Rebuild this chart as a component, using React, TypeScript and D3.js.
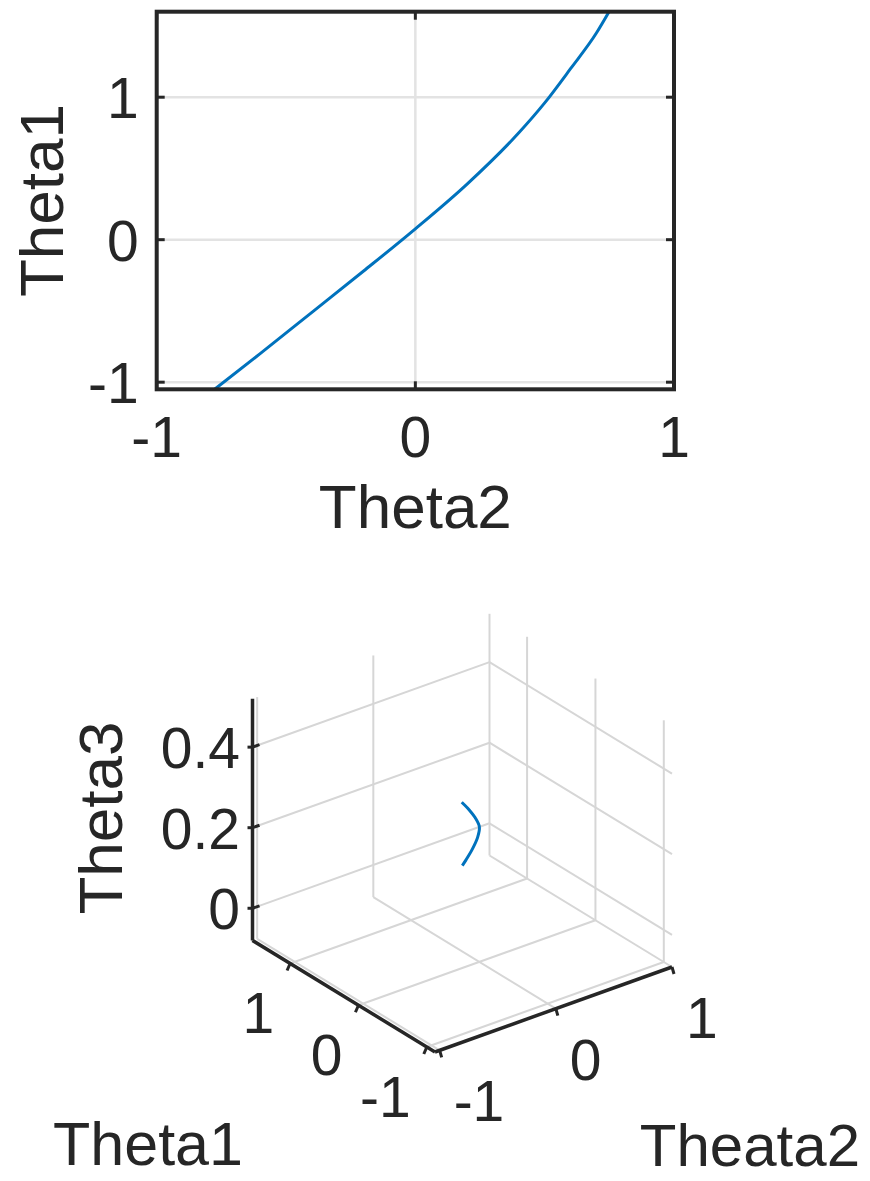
import * as d3 from 'd3';

// top plot: Theta1 vs Theta2
const theta2Top = [-0.776, -0.6, -0.4, -0.2, 0, 0.2, 0.4, 0.5, 0.6, 0.7, 0.749];
const theta1Top = [-1.05, -0.8, -0.51, -0.22, 0.076, 0.39, 0.75, 0.96, 1.2, 1.45, 1.6];
const topTicks = [-1, 0, 1];

// 3d plot: small arc in (Theta1, Theata2, Theta3)
const arcTheta1 = [0, 0, 0, 0, 0, 0, 0, 0];
const arcTheta2 = [-0.151, -0.088, -0.036, 0.001, -0.015, -0.062, -0.114, -0.146];
const arcTheta3 = [0.332, 0.307, 0.282, 0.255, 0.23, 0.205, 0.185, 0.174];
const t1Ticks = [-1, 0, 1];
const t2Ticks = [-1, 0, 1];
const zTicks = [0, 0.2, 0.4];
const zTickLabels = ['0', '0.2', '0.4'];

const BLUE = '#0072BD';
const AXIS = '#262626';
const GRID = '#e3e3e3';
const GRID3D = '#d6d6d6';
const FONT = '"Liberation Sans", Arial, Helvetica, sans-serif';
const TICK_FS = 57;
const LABEL_FS = 62;

const TopPlot = () => {
  const left = 156.7, right = 674, top = 11.7, bottom = 389.3;
  const x = d3.scaleLinear().domain([-1, 1]).range([left, right]);
  const y = d3.scaleLinear().domain([-1.05, 1.6]).range([bottom, top]);
  const pts = theta2Top.map((d, i) => [d, theta1Top[i]] as [number, number]);
  const line = d3
    .line<[number, number]>()
    .x((d) => x(d[0]))
    .y((d) => y(d[1]))
    .curve(d3.curveMonotoneX);
  const tl = 8;
  return (
    <g>
      {topTicks.map((t) => (
        <line key={'gx' + t} x1={x(t)} x2={x(t)} y1={top} y2={bottom} stroke={GRID} strokeWidth={2.5} />
      ))}
      {topTicks.map((t) => (
        <line key={'gy' + t} x1={left} x2={right} y1={y(t)} y2={y(t)} stroke={GRID} strokeWidth={2.5} />
      ))}
      <path d={line(pts) ?? ''} fill="none" stroke={BLUE} strokeWidth={3} />
      {topTicks.map((t) => (
        <g key={'tk' + t} stroke={AXIS} strokeWidth={3}>
          <line x1={x(t)} x2={x(t)} y1={bottom} y2={bottom - tl} />
          <line x1={x(t)} x2={x(t)} y1={top} y2={top + tl} />
          <line x1={left} x2={left + tl} y1={y(t)} y2={y(t)} />
          <line x1={right} x2={right - tl} y1={y(t)} y2={y(t)} />
        </g>
      ))}
      <rect x={left} y={top} width={right - left} height={bottom - top} fill="none" stroke={AXIS} strokeWidth={4} />
      {topTicks.map((t) => (
        <text key={'lx' + t} x={x(t)} y={bottom + 68} textAnchor="middle" fontSize={TICK_FS} fill={AXIS}>
          {t}
        </text>
      ))}
      {topTicks.map((t) => (
        <text key={'ly' + t} x={left - 18} y={y(t) + 21} textAnchor="end" fontSize={TICK_FS} fill={AXIS}>
          {t}
        </text>
      ))}
      <text x={(left + right) / 2} y={528} textAnchor="middle" fontSize={LABEL_FS} fill={AXIS}>
        Theta2
      </text>
      <text
        transform={`translate(63, ${(top + bottom) / 2}) rotate(-90)`}
        textAnchor="middle"
        fontSize={LABEL_FS}
        fill={AXIS}
      >
        Theta1
      </text>
    </g>
  );
};

const Plot3D = () => {
  // screen position of (Theta1 min, Theata2 min, Theta3 min) and the axis directions
  const B: [number, number] = [435, 1052];
  const v1: [number, number] = [-182.5, -111.5];
  const v2: [number, number] = [237, -85];
  const f1 = d3.scaleLinear().domain([-1.12, 1.55]).range([0, 1]);
  const f2 = d3.scaleLinear().domain([-1.04, 1.0]).range([0, 1]);
  const fz = d3.scaleLinear().domain([-0.08, 0.52]).range([0, -241.7]);
  const [t1min, t1max] = f1.domain();
  const [t2min, t2max] = f2.domain();
  const [zmin, zmax] = fz.domain();
  const P = (a: number, b: number, c: number): [number, number] => [
    B[0] + f1(a) * v1[0] + f2(b) * v2[0],
    B[1] + f1(a) * v1[1] + f2(b) * v2[1] + fz(c),
  ];
  const seg = (p: [number, number], q: [number, number], key: string, stroke: string, w: number) => (
    <line key={key} x1={p[0]} y1={p[1]} x2={q[0]} y2={q[1]} stroke={stroke} strokeWidth={w} />
  );
  const grid: JSX.Element[] = [];
  // floor
  t1Ticks.forEach((t) => grid.push(seg(P(t, t2min, zmin), P(t, t2max, zmin), 'f1' + t, GRID3D, 2)));
  t2Ticks.forEach((t) => grid.push(seg(P(t1min, t, zmin), P(t1max, t, zmin), 'f2' + t, GRID3D, 2)));
  // left wall (Theta1 = max)
  zTicks.forEach((t) => grid.push(seg(P(t1max, t2min, t), P(t1max, t2max, t), 'lz' + t, GRID3D, 2)));
  t2Ticks.forEach((t) => grid.push(seg(P(t1max, t, zmin), P(t1max, t, zmax), 'lv' + t, GRID3D, 2)));
  // right wall (Theata2 = max)
  zTicks.forEach((t) => grid.push(seg(P(t1min, t2max, t), P(t1max, t2max, t), 'rz' + t, GRID3D, 2)));
  t1Ticks.forEach((t) => grid.push(seg(P(t, t2max, zmin), P(t, t2max, zmax), 'rv' + t, GRID3D, 2)));

  const arc = d3
    .line<number>()
    .x((i) => P(arcTheta1[i], arcTheta2[i], arcTheta3[i])[0])
    .y((i) => P(arcTheta1[i], arcTheta2[i], arcTheta3[i])[1])
    .curve(d3.curveCatmullRom);

  const L = P(t1max, t2min, zmin);
  const Bp = P(t1min, t2min, zmin);
  const R = P(t1min, t2max, zmin);
  const Ltop = P(t1max, t2min, zmax);
  const tickLen = 7;

  return (
    <g>
      {grid}
      <path d={arc(d3.range(arcTheta1.length)) ?? ''} fill="none" stroke={BLUE} strokeWidth={3} />
      {seg(L, Ltop, 'zax', AXIS, 3.5)}
      {seg(L, Bp, 't1ax', AXIS, 3.5)}
      {seg(Bp, R, 't2ax', AXIS, 3.5)}
      {zTicks.map((t) => {
        const p = P(t1max, t2min, t);
        return (
          <g key={'zt' + t}>
            <line x1={p[0]} x2={p[0] + tickLen} y1={p[1]} y2={p[1] - tickLen * 0.35} stroke={AXIS} strokeWidth={3} />
            <line x1={p[0]} x2={p[0] - 5} y1={p[1]} y2={p[1]} stroke={AXIS} strokeWidth={3} />
          </g>
        );
      })}
      {t1Ticks.map((t) => {
        const p = P(t, t2min, zmin);
        return <line key={'t1t' + t} x1={p[0]} x2={p[0] - 3} y1={p[1]} y2={p[1] + 7} stroke={AXIS} strokeWidth={3} />;
      })}
      {t2Ticks.map((t) => {
        const p = P(t1min, t, zmin);
        return <line key={'t2t' + t} x1={p[0]} x2={p[0] + 2} y1={p[1]} y2={p[1] + 7} stroke={AXIS} strokeWidth={3} />;
      })}
      {zTicks.map((t, i) => {
        const p = P(t1max, t2min, t);
        return (
          <text key={'zl' + t} x={240} y={p[1] + 21} textAnchor="end" fontSize={TICK_FS} fill={AXIS}>
            {zTickLabels[i]}
          </text>
        );
      })}
      {t1Ticks.map((t) => {
        const p = P(t, t2min, zmin);
        return (
          <text key={'t1l' + t} x={p[0] - 16} y={p[1] + 70} textAnchor="end" fontSize={TICK_FS} fill={AXIS}>
            {t}
          </text>
        );
      })}
      {t2Ticks.map((t) => {
        const p = P(t1min, t, zmin);
        return (
          <text key={'t2l' + t} x={p[0] + 14} y={p[1] + 71} textAnchor="start" fontSize={TICK_FS} fill={AXIS}>
            {t}
          </text>
        );
      })}
      <text x={148} y={1165} textAnchor="middle" fontSize={LABEL_FS - 1} fill={AXIS}>
        Theta1
      </text>
      <text x={860} y={1166} textAnchor="end" fontSize={LABEL_FS - 2} fill={AXIS}>
        Theata2
      </text>
      <text transform="translate(122, 818) rotate(-90)" textAnchor="middle" fontSize={LABEL_FS} fill={AXIS}>
        Theta3
      </text>
    </g>
  );
};

export default function App() {
  return (
    <svg
      width={870}
      height={1181}
      style={{ position: 'absolute', left: 0, top: 0, background: '#fff' }}
      fontFamily={FONT}
    >
      <rect width={870} height={1181} fill="#fff" />
      <TopPlot />
      <Plot3D />
    </svg>
  );
}
